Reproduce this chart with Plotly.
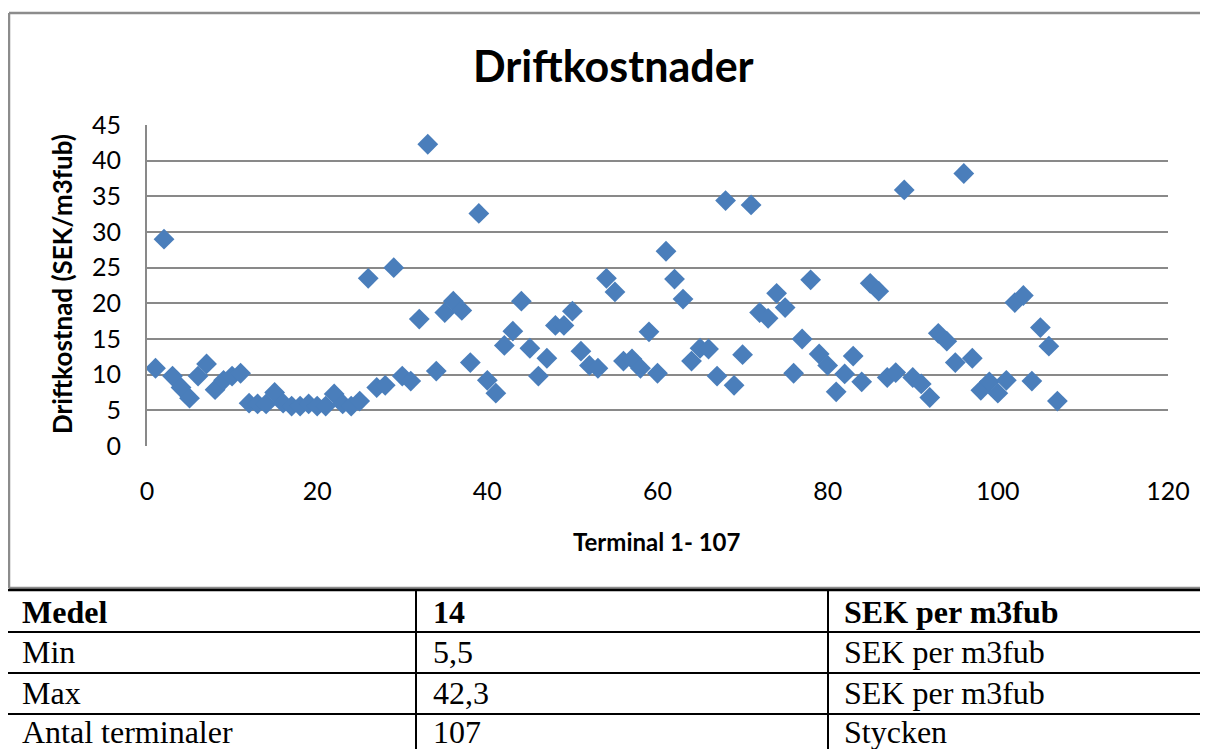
import plotly.graph_objects as go

OFF = 8  # page body margin in the browser
W, H = 1208 - 2 * OFF, 749 - OFF

terminal = list(range(1, 108))
kostnad = [
    10.9, 29.0, 9.8, 8.2, 6.7, 9.8, 11.5, 7.9, 9.2, 9.8,
    10.2, 6.0, 5.9, 5.9, 7.5, 6.0, 5.6, 5.6, 5.9, 5.6,
    5.6, 7.3, 5.9, 5.6, 6.3, 23.5, 8.2, 8.5, 25.0, 9.8,
    9.1, 17.8, 42.3, 10.5, 18.7, 20.3, 19.0, 11.7, 32.6, 9.2,
    7.4, 14.1, 16.1, 20.3, 13.7, 9.8, 12.3, 16.9, 16.9, 18.9,
    13.3, 11.3, 10.9, 23.5, 21.6, 11.9, 12.2, 10.9, 16.0, 10.2,
    27.3, 23.4, 20.6, 11.9, 13.7, 13.6, 9.8, 34.4, 8.5, 12.8,
    33.8, 18.7, 17.9, 21.4, 19.4, 10.2, 15.0, 23.3, 12.9, 11.3,
    7.6, 10.1, 12.6, 9.0, 22.8, 21.7, 9.6, 10.3, 35.9, 9.6,
    8.7, 6.8, 15.8, 14.7, 11.7, 38.2, 12.3, 7.8, 9.0, 7.4,
    9.2, 20.1, 21.1, 9.1, 16.6, 14.0, 6.3,
]

x_ticks = [0, 20, 40, 60, 80, 100, 120]
y_ticks = [0, 5, 10, 15, 20, 25, 30, 35, 40, 45]

title = "Driftkostnader"
y_title = "Driftkostnad (SEK/m3fub)"
x_title = "Terminal 1- 107"

table_col1 = ["Medel", "Min", "Max", "Antal terminaler"]
table_col2 = ["14", "5,5", "42,3", "107"]
table_col3 = ["SEK per m3fub", "SEK per m3fub", "SEK per m3fub", "Stycken"]


def xp(px):
    return (px - OFF) / W


def yp(py):
    return 1 - (py - OFF) / H


fig = go.Figure()
fig.add_trace(go.Scatter(
    x=terminal, y=kostnad, mode="markers",
    marker=dict(symbol="diamond", size=16, color="#4A7EBB",
                line=dict(width=0)),
    showlegend=False, cliponaxis=False,
))

font_sans = "Lato, 'Open Sans', sans-serif"
font_serif = "'Liberation Serif', 'Times New Roman', serif"

shapes = []
annotations = []

# outer chart border (left, top, bottom; right edge is outside the page)
border = dict(color="#8C8C8C", width=2.5)
shapes.append(dict(type="line", xref="paper", yref="paper",
                   x0=xp(9), x1=xp(1230), y0=yp(13), y1=yp(13), line=border))
shapes.append(dict(type="line", xref="paper", yref="paper",
                   x0=xp(9), x1=xp(1230), y0=yp(588), y1=yp(588), line=border))
shapes.append(dict(type="line", xref="paper", yref="paper",
                   x0=xp(9), x1=xp(9), y0=yp(13), y1=yp(588), line=border))

# title & axis titles
annotations.append(dict(text="<b>" + title + "</b>", xref="paper", yref="paper",
                        x=xp(613), y=yp(66), showarrow=False,
                        xanchor="center", yanchor="middle",
                        font=dict(family=font_sans, size=43, color="black")))
annotations.append(dict(text="<b>" + y_title + "</b>", xref="paper", yref="paper",
                        x=xp(62), y=yp(284), showarrow=False, textangle=-90,
                        xanchor="center", yanchor="middle",
                        font=dict(family=font_sans, size=26, color="black")))
annotations.append(dict(text="<b>" + x_title + "</b>", xref="paper", yref="paper",
                        x=xp(657), y=yp(541), showarrow=False,
                        xanchor="center", yanchor="middle",
                        font=dict(family=font_sans, size=24, color="black")))

# table
row_lines = [590, 632, 673, 714]
col_lines = [6, 416, 828]
for i, yl in enumerate(row_lines):
    shapes.append(dict(type="line", xref="paper", yref="paper",
                       x0=xp(5), x1=xp(1230), y0=yp(yl), y1=yp(yl),
                       line=dict(color="black", width=2.5 if i == 0 else 2)))
for xl in col_lines:
    shapes.append(dict(type="line", xref="paper", yref="paper",
                       x0=xp(xl), x1=xp(xl), y0=yp(590), y1=yp(760),
                       line=dict(color="black", width=2)))

row_centers = [612, 652, 693, 732]
col_text_x = [20, 431, 842]
for r in range(4):
    cells = [table_col1[r], table_col2[r], table_col3[r]]
    for c in range(3):
        t = cells[c]
        if r == 0:
            t = "<b>" + t + "</b>"
        annotations.append(dict(text=t, xref="paper", yref="paper",
                                x=xp(col_text_x[c]), y=yp(row_centers[r]),
                                showarrow=False, xanchor="left", yanchor="middle",
                                font=dict(family=font_serif, size=32, color="black")))

fig.update_layout(
    width=W, height=H,
    margin=dict(l=0, r=0, t=0, b=0, autoexpand=False),
    paper_bgcolor="white", plot_bgcolor="white",
    shapes=shapes, annotations=annotations,
    xaxis=dict(range=[0, 120], domain=[xp(147), xp(1168)], automargin=False,
               tickvals=x_ticks, ticks="", showgrid=False, zeroline=False,
               showline=False, ticklabelstandoff=28,
               tickfont=dict(family=font_sans, size=25, color="black")),
    yaxis=dict(range=[0, 45], domain=[yp(446), yp(125)], automargin=False,
               tickvals=y_ticks, ticks="", showgrid=True,
               gridcolor="#898989", gridwidth=2, zeroline=False,
               showline=True, linecolor="#898989", linewidth=2,
               ticklabelstandoff=19,
               tickfont=dict(family=font_sans, size=25, color="black")),
)

fig.write_html("out.html")
